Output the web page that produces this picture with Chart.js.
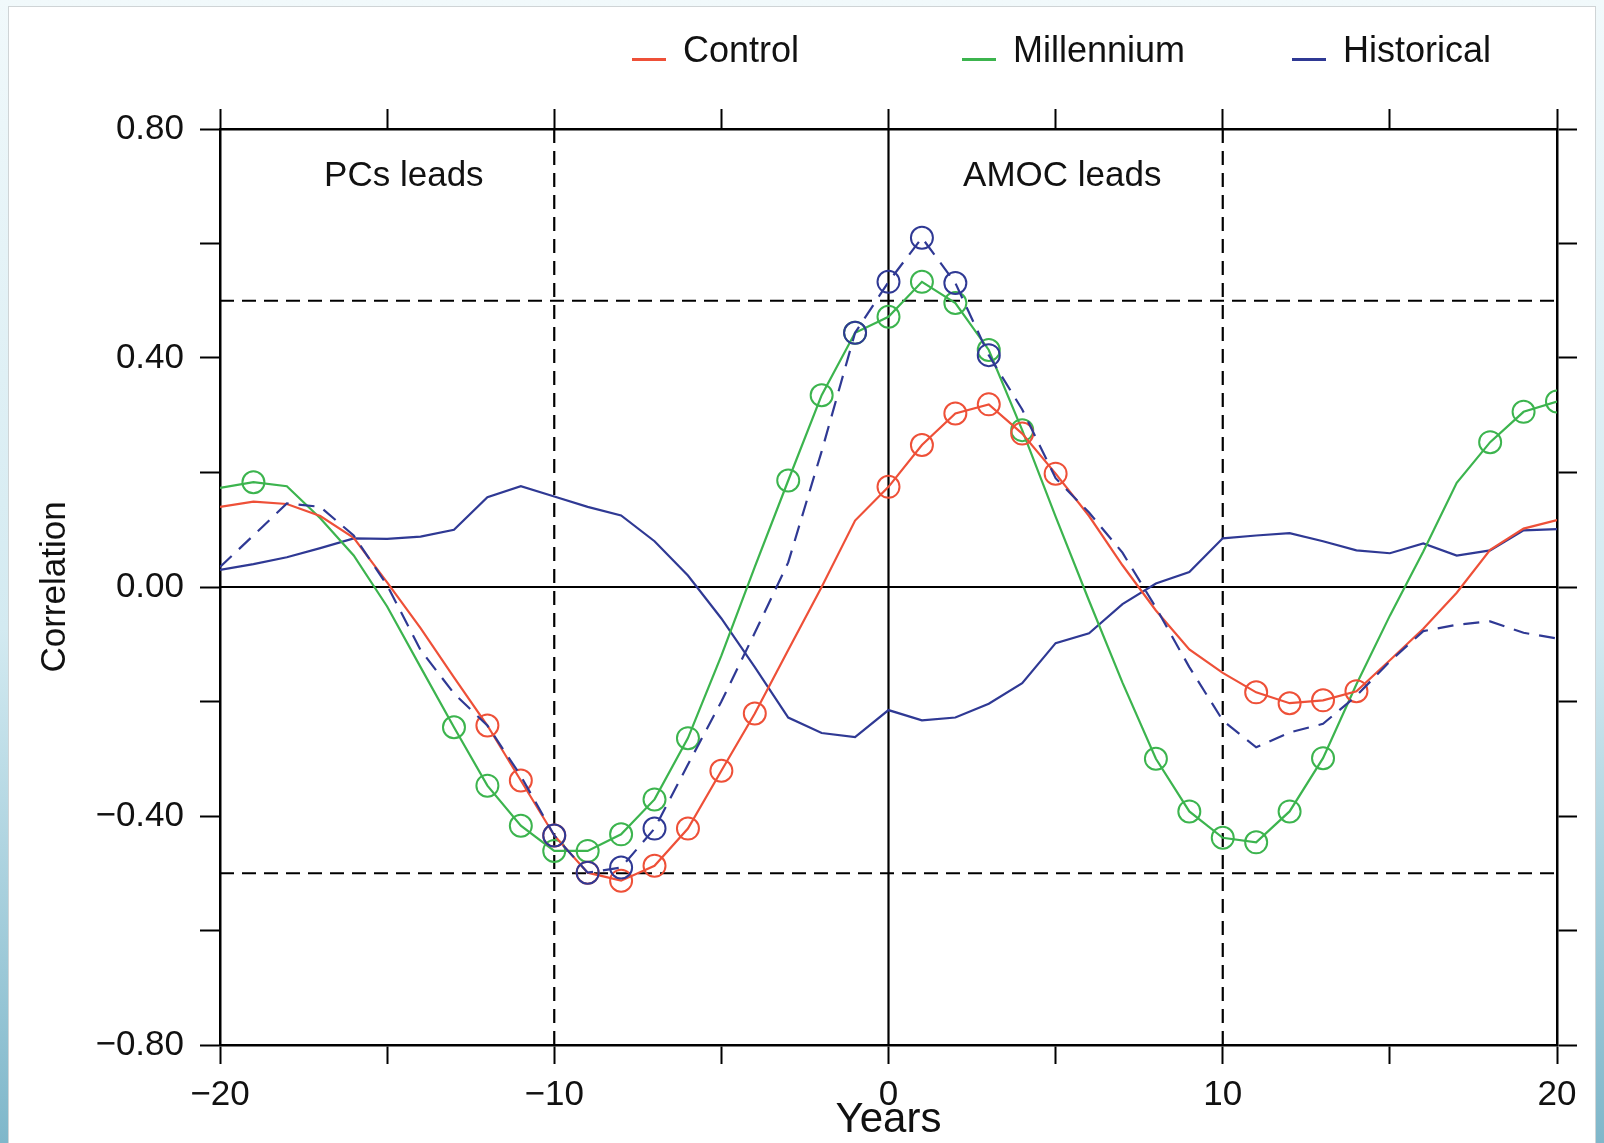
<!DOCTYPE html>
<html lang="en">
<head>
    <meta charset="UTF-8">
    <title>Correlation AMOC / PCs</title>
    <script src="https://cdn.jsdelivr.net/npm/chart.js"></script>
    <style>
        html, body { margin: 0; padding: 0; }
        body {
            width: 1604px; height: 1143px; position: relative; overflow: hidden;
            background: linear-gradient(to bottom, #f1f9fb 0%, #d3eaf1 55%, #7fb7ca 100%);
        }
        #frame {
            position: absolute; left: 8px; top: 6px; width: 1586px; height: 1137px;
            background: #fff; border: 1px solid #cfd4d6; border-bottom: none;
        }
        #chart { position: absolute; left: 0; top: 0; }
    </style>
</head>
<body>
    <div id="frame"></div>
    <canvas id="chart" width="1604" height="1143"></canvas>

    <script>
        // lag in years (negative: PCs lead, positive: AMOC leads)
        const years = [-20, -19, -18, -17, -16, -15, -14, -13, -12, -11,
                       -10, -9, -8, -7, -6, -5, -4, -3, -2, -1,
                       0, 1, 2, 3, 4, 5, 6, 7, 8, 9,
                       10, 11, 12, 13, 14, 15, 16, 17, 18, 19, 20];

        const control = [0.140, 0.149, 0.145, 0.124, 0.086, 0.008, -0.072, -0.158, -0.242, -0.338,
                         -0.434, -0.499, -0.513, -0.487, -0.422, -0.321, -0.221, -0.110, 0.000, 0.116,
                         0.175, 0.248, 0.303, 0.319, 0.268, 0.198, 0.124, 0.038, -0.041, -0.109,
                         -0.150, -0.184, -0.203, -0.198, -0.182, -0.128, -0.073, -0.010, 0.065, 0.102, 0.117];

        const millennium = [0.173, 0.183, 0.176, 0.120, 0.055, -0.034, -0.140, -0.245, -0.347, -0.417,
                            -0.461, -0.461, -0.432, -0.371, -0.264, -0.120, 0.035, 0.186, 0.335, 0.444,
                            0.472, 0.533, 0.496, 0.414, 0.274, 0.123, -0.024, -0.167, -0.300, -0.392,
                            -0.438, -0.446, -0.392, -0.299, -0.170, -0.050, 0.062, 0.182, 0.253, 0.306, 0.324];

        const historical = [0.030, 0.040, 0.052, 0.068, 0.085, 0.084, 0.088, 0.100, 0.157, 0.176,
                            0.158, 0.140, 0.125, 0.080, 0.020, -0.055, -0.140, -0.228, -0.255, -0.262,
                            -0.215, -0.233, -0.228, -0.204, -0.168, -0.098, -0.081, -0.030, 0.006, 0.026,
                            0.085, 0.090, 0.094, 0.080, 0.064, 0.059, 0.076, 0.055, 0.064, 0.099, 0.101];

        const historicalDashed = [0.035, 0.090, 0.146, 0.140, 0.090, 0.003, -0.110, -0.186, -0.242, -0.330,
                                  -0.434, -0.499, -0.490, -0.422, -0.310, -0.200, -0.080, 0.043, 0.237, 0.444,
                                  0.533, 0.610, 0.531, 0.405, 0.310, 0.190, 0.130, 0.060, -0.036, -0.140,
                                  -0.233, -0.280, -0.254, -0.239, -0.190, -0.130, -0.077, -0.066, -0.060, -0.080, -0.090];

        // years marked with a circle (significant values)
        const controlMarks = [-12, -11, -10, -9, -8, -7, -6, -5, -4, 0, 1, 2, 3, 4, 5, 11, 12, 13, 14];
        const millenniumMarks = [-19, -13, -12, -11, -10, -9, -8, -7, -6, -3, -2, -1, 0, 1, 2, 3, 4,
                                 8, 9, 10, 11, 12, 13, 18, 19, 20];
        const historicalMarks = [];
        const dashedMarks = [-10, -9, -8, -7, -1, 0, 1, 2, 3];

        const xTicks = [-20, -10, 0, 10, 20];
        const yTicks = [0.8, 0.4, 0, -0.4, -0.8];

        const legendNames = ['Control', 'Millennium', 'Historical'];
        const notes = [
            { text: 'PCs leads', x: -14.5, y: 0.718 },
            { text: 'AMOC leads', x: 5.2, y: 0.718 }
        ];
        // reference lines: zero lines solid, +-0.5 and +-10 dashed
        const hLines = [{ v: 0, dash: [] }, { v: 0.5, dash: [14, 8] }, { v: -0.5, dash: [14, 8] }];
        const vLines = [{ v: 0, dash: [] }, { v: -10, dash: [14, 8] }, { v: 10, dash: [14, 8] }];

        const RED = '#ee5038';
        const GREEN = '#3cb44e';
        const BLUE = '#2f3994';
        const FONT = "'Liberation Sans', Arial, sans-serif";

        function series(values, marks, color, label, order, dash) {
            return {
                label: label,
                order: order,
                data: years.map((x, i) => ({ x: x, y: values[i] })),
                borderColor: color,
                borderWidth: 2.2,
                borderDash: dash || [],
                fill: false,
                tension: 0,
                pointStyle: 'circle',
                pointRadius: years.map(x => marks.includes(x) ? 11 : 0),
                pointBorderWidth: 2,
                pointBorderColor: color,
                pointBackgroundColor: 'rgba(0,0,0,0)',
                pointHoverRadius: 0
            };
        }

        const refPlugin = {
            id: 'refLines',
            beforeDatasetsDraw(chart) {
                const { ctx, chartArea: a, scales: { x, y } } = chart;
                ctx.save();
                ctx.strokeStyle = '#000';
                ctx.lineWidth = 2.2;
                hLines.forEach(l => {
                    const py = y.getPixelForValue(l.v);
                    ctx.setLineDash(l.dash);
                    ctx.beginPath(); ctx.moveTo(a.left, py); ctx.lineTo(a.right, py); ctx.stroke();
                });
                vLines.forEach(l => {
                    const px = x.getPixelForValue(l.v);
                    ctx.setLineDash(l.dash);
                    ctx.beginPath(); ctx.moveTo(px, a.top); ctx.lineTo(px, a.bottom); ctx.stroke();
                });
                ctx.restore();
            }
        };

        const textPlugin = {
            id: 'texts',
            afterDraw(chart) {
                const { ctx, scales: { x, y } } = chart;
                ctx.save();
                // notes inside the plot
                ctx.fillStyle = '#111';
                ctx.font = '35px ' + FONT;
                ctx.textAlign = 'center';
                ctx.textBaseline = 'middle';
                notes.forEach(n => ctx.fillText(n.text, x.getPixelForValue(n.x), y.getPixelForValue(n.y)));
                // legend on top
                const colors = [RED, GREEN, BLUE];
                ctx.font = '36px ' + FONT;
                ctx.textAlign = 'left';
                ctx.textBaseline = 'alphabetic';
                legendNames.forEach((name, i) => {
                    const lx = 632 + i * 330;
                    ctx.strokeStyle = colors[i];
                    ctx.lineWidth = 3;
                    ctx.beginPath(); ctx.moveTo(lx, 59.5); ctx.lineTo(lx + 34, 59.5); ctx.stroke();
                    ctx.fillStyle = '#111';
                    ctx.fillText(name, lx + 51, 62);
                });
                ctx.restore();
            }
        };

        const near = (v, list) => list.some(t => Math.abs(t - v) < 1e-6);
        const sign = v => (v < -1e-9 ? '\u2212' : '');

        const axisGrid = { drawOnChartArea: false, drawTicks: true, tickLength: 20, tickWidth: 2, tickColor: '#000' };
        const axisBorder = { display: true, color: '#000', width: 2.5 };

        const ctx = document.getElementById('chart').getContext('2d');
        const chart = new Chart(ctx, {
            type: 'line',
            data: {
                datasets: [
                    series(historicalDashed, dashedMarks, BLUE, 'Historical', 0, [16, 10]),
                    series(control, controlMarks, RED, 'Control', 1),
                    series(millennium, millenniumMarks, GREEN, 'Millennium', 2),
                    series(historical, historicalMarks, BLUE, 'Historical', 3)
                ]
            },
            options: {
                responsive: false,
                animation: false,
                events: [],
                layout: { padding: 0 },
                plugins: { legend: { display: false }, tooltip: { enabled: false } },
                scales: {
                    x: {
                        type: 'linear', position: 'bottom', min: -20, max: 20,
                        afterFit: s => { s.height = 98; },
                        grid: Object.assign({}, axisGrid, { tickLength: 19 }),
                        border: axisBorder,
                        ticks: {
                            stepSize: 5, autoSkip: false, padding: 10, color: '#111',
                            font: { family: FONT, size: 35 },
                            callback: v => near(v, xTicks) ? sign(v) + Math.abs(v) : ''
                        },
                        title: {
                            display: true, text: 'Years', color: '#111',
                            font: { family: FONT, size: 42, lineHeight: 1 },
                            padding: { top: 0, bottom: 2 }
                        }
                    },
                    xTop: {
                        type: 'linear', position: 'top', min: -20, max: 20,
                        afterFit: s => { s.height = 129; },
                        grid: axisGrid,
                        border: axisBorder,
                        ticks: { stepSize: 5, autoSkip: false, display: false }
                    },
                    y: {
                        type: 'linear', position: 'left', min: -0.8, max: 0.8,
                        afterFit: s => { s.width = 220; },
                        grid: axisGrid,
                        border: axisBorder,
                        ticks: {
                            stepSize: 0.2, autoSkip: false, padding: 16, color: '#111',
                            font: { family: FONT, size: 35 },
                            callback: v => near(v, yTicks) ? sign(v) + Math.abs(v).toFixed(2) : ''
                        },
                        title: {
                            display: true, text: 'Correlation', color: '#111',
                            font: { family: FONT, size: 35, lineHeight: 1.2 },
                            padding: { top: 34, bottom: 0 }
                        }
                    },
                    yRight: {
                        type: 'linear', position: 'right', min: -0.8, max: 0.8,
                        afterFit: s => { s.width = 47; },
                        grid: axisGrid,
                        border: axisBorder,
                        ticks: { stepSize: 0.2, autoSkip: false, display: false }
                    }
                }
            },
            plugins: [refPlugin, textPlugin]
        });
    </script>
</body>
</html>
